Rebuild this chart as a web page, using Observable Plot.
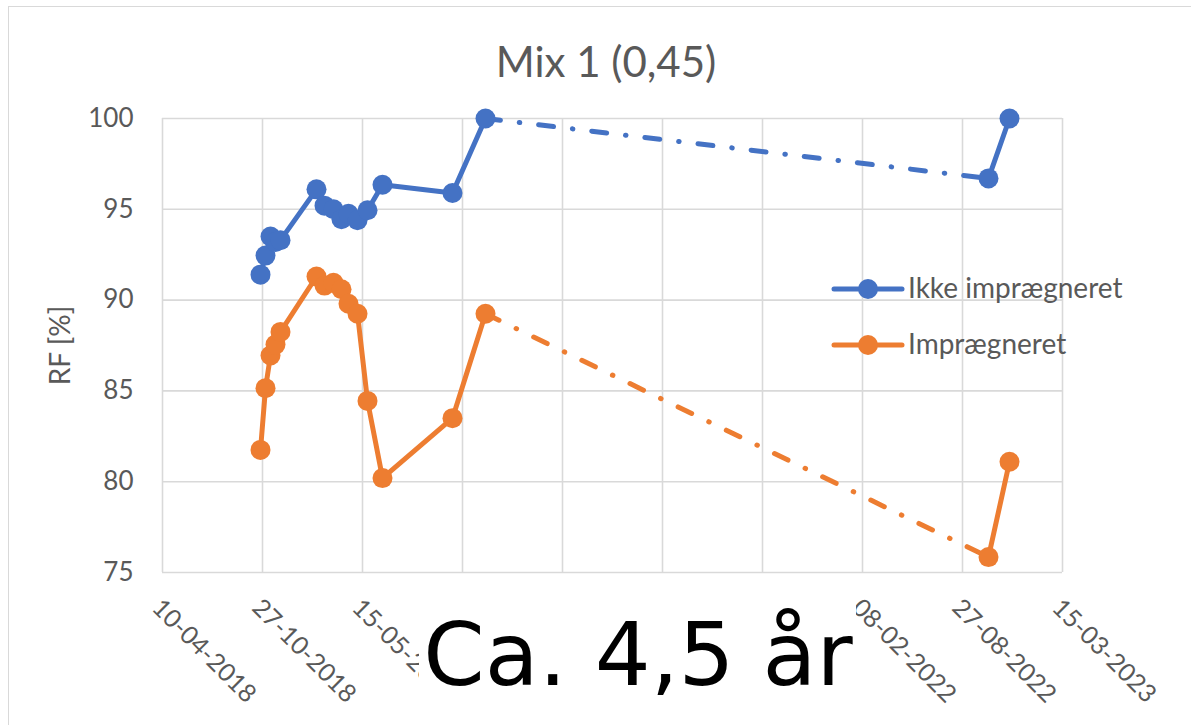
<!DOCTYPE html>
<html><head><meta charset="utf-8">
<script src="https://cdn.jsdelivr.net/npm/d3@7"></script>
<script src="https://cdn.jsdelivr.net/npm/@observablehq/plot@0.6"></script>
<style>
html,body{margin:0;padding:0;background:#fff;}
#wrap{position:relative;width:1191px;height:725px;overflow:hidden;background:#fff;}
#border{position:absolute;left:8px;top:6px;width:1400px;height:900px;border:1.5px solid #d9d9d9;box-sizing:border-box;}
#chart{position:absolute;left:0;top:0;}
#overlay{position:absolute;left:0;top:0;}
</style></head><body>
<div id="wrap"><div id="border"></div><div id="chart"></div><svg id="overlay" width="1191" height="725"></svg></div>
<script>
const series = ["Ikke imprægneret", "Imprægneret"];
const colors = ["#4472C4", "#ED7D31"];
const dates = ["2018-10-23","2018-11-02","2018-11-12","2018-11-22","2018-12-02","2019-02-12","2019-02-28","2019-03-18","2019-04-03","2019-04-17","2019-05-05","2019-05-25","2019-06-24","2019-11-11","2020-01-16","2022-10-18","2022-11-29"];
const ikke = [91.4, 92.45, 93.5, 93.2, 93.3, 96.1, 95.2, 95.0, 94.45, 94.75, 94.4, 94.95, 96.35, 95.9, 100, 96.7, 100];
const impraegneret = [81.75, 85.15, 86.95, 87.55, 88.25, 91.3, 90.8, 90.95, 90.6, 89.8, 89.25, 84.45, 80.2, 83.5, 89.25, 75.85, 81.1];
const dashFrom = 14, dashTo = 15;
const xTicks = ["2018-04-10","2018-10-27","2019-05-15","2019-12-01","2020-06-18","2021-01-04","2021-07-23","2022-02-08","2022-08-27","2023-03-15"];
const yTicks = [75, 80, 85, 90, 95, 100];
const title = "Mix 1 (0,45)";
const yLabel = "RF [%]";
const note = "Ca. 4,5 år";

const parse = d3.utcParse("%Y-%m-%d");
const rows = [];
dates.forEach((d, i) => {
  rows.push({i, date: parse(d), value: ikke[i], series: series[0]});
  rows.push({i, date: parse(d), value: impraegneret[i], series: series[1]});
});
const solidA = rows.filter(r => r.i <= dashFrom);
const solidB = rows.filter(r => r.i >= dashTo);
const dashed = rows.filter(r => r.i === dashFrom || r.i === dashTo);
const tickDates = xTicks.map(parse);
const grid = {stroke: "#d9d9d9", strokeOpacity: 1, strokeWidth: 1.6};

const plot = Plot.plot({
  width: 1191, height: 725,
  marginTop: 118, marginBottom: 153, marginLeft: 162, marginRight: 129,
  style: {fontFamily: "Lato", fontSize: "26px", color: "#595959", background: "transparent", overflow: "visible"},
  x: {type: "utc", domain: [tickDates[0], tickDates[tickDates.length - 1]]},
  y: {domain: [75, 100]},
  color: {domain: series, range: colors},
  marks: [
    Plot.gridX({ticks: tickDates, ...grid}),
    Plot.gridY({ticks: yTicks, ...grid}),
    Plot.axisY({ticks: yTicks, tickSize: 0, tickPadding: 29, label: null, fill: "#595959"}),
    Plot.axisX({ticks: tickDates, tickFormat: d3.utcFormat("%d-%m-%Y"), tickSize: 0, tickPadding: 31,
      tickRotate: 45, textAnchor: "start", lineAnchor: "middle", dx: -6, label: null, fill: "#595959", fontSize: 25}),
    Plot.text([yLabel], {frameAnchor: "left", dx: -101, rotate: -90, textAnchor: "middle", lineAnchor: "middle", fontSize: 28, fill: "#595959"}),
    Plot.line(dashed, {x: "date", y: "value", z: "series", stroke: "series", strokeWidth: 5,
      strokeDasharray: "15,19,0.5,19", strokeLinecap: "round"}),
    Plot.line(solidA, {x: "date", y: "value", z: "series", stroke: "series", strokeWidth: 5, strokeLinejoin: "round"}),
    Plot.line(solidB, {x: "date", y: "value", z: "series", stroke: "series", strokeWidth: 5, strokeLinejoin: "round"}),
    Plot.dot(rows, {x: "date", y: "value", fill: "series", r: 10})
  ]
});
document.getElementById("chart").appendChild(plot);

// overlay: title, legend, note box
const ov = d3.select("#overlay");
ov.append("text").attr("x", 606).attr("y", 77).attr("text-anchor", "middle")
  .attr("font-family", "Lato").attr("font-size", 42).attr("fill", "#595959").text(title);
series.forEach((s, k) => {
  const y = 289 + 56 * k;
  const g = ov.append("g");
  g.append("line").attr("x1", 834).attr("x2", 902).attr("y1", y).attr("y2", y)
    .attr("stroke", colors[k]).attr("stroke-width", 5).attr("stroke-linecap", "round");
  g.append("circle").attr("cx", 868).attr("cy", y).attr("r", 10).attr("fill", colors[k]);
  g.append("text").attr("x", 908).attr("y", y + 9).attr("font-family", "Lato").attr("font-size", 28)
    .attr("fill", "#595959").text(s);
});
ov.append("rect").attr("x", 419).attr("y", 592).attr("width", 437).attr("height", 111).attr("fill", "#fff");
ov.append("text").attr("x", 638).attr("y", 685).attr("text-anchor", "middle")
  .attr("font-family", "DejaVu Sans").attr("font-size", 88).attr("fill", "#000").text(note);
</script>
</body></html>
